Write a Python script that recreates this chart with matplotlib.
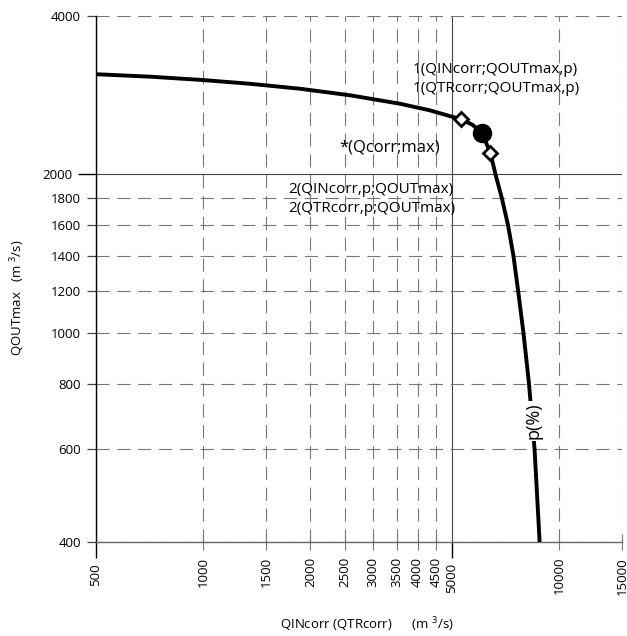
import numpy as np
import matplotlib
matplotlib.use('Agg')
from matplotlib import pyplot as plt
from matplotlib.ticker import FixedLocator, FuncFormatter

plt.rcParams['font.family'] = ['Open Sans', 'DejaVu Sans']
plt.rcParams['mathtext.fontset'] = 'custom'
plt.rcParams['mathtext.rm'] = 'Open Sans'
plt.rcParams['mathtext.it'] = 'Open Sans'
plt.rcParams['lines.scale_dashes'] = False

#   Data
q_in = [500, 709, 1000, 1354, 1871, 2585, 3572, 4337, 5300, 5700, 6060, 6400, 6620,
        6900, 7180, 7434, 7664, 7930, 8220, 8523, 8806]
q_out = [3100, 3067, 3022, 2973, 2909, 2827, 2724, 2646, 2545, 2485, 2400, 2200, 2000,
         1800, 1600, 1400, 1200, 1000, 800, 600, 400]

diamond_x = [5300, 6400]
diamond_y = [2545, 2200]
max_x = [6060]
max_y = [2400]

x_major = [500, 5000]
x_minor = [1000, 1500, 2000, 2500, 3000, 3500, 4000, 4500, 10000, 15000]
y_major = [2000]
y_minor = [400, 600, 800, 1000, 1200, 1400, 1600, 1800, 4000]

fig = plt.figure(figsize=(6.27, 6.36), dpi=100)
ax = fig.add_axes([96/627, 1-542/636, 526/627, 526/636])
ax.set_xscale('log')
ax.set_yscale('log')
ax.set_xlim(500, 15000)
ax.set_ylim(400, 4000)

fmt = FuncFormatter(lambda v, p: '%d' % round(v))
ax.xaxis.set_major_locator(FixedLocator(x_major))
ax.xaxis.set_minor_locator(FixedLocator(x_minor))
ax.yaxis.set_major_locator(FixedLocator(y_major))
ax.yaxis.set_minor_locator(FixedLocator(y_minor))
for a in (ax.xaxis, ax.yaxis):
    a.set_major_formatter(fmt)
    a.set_minor_formatter(fmt)

ax.tick_params(axis='x', which='major', direction='out', length=11.5, width=1,
               color='black', pad=3.6, labelsize=9.5, labelrotation=90)
ax.tick_params(axis='x', which='minor', direction='inout', length=11.5, width=0.8,
               color='#777777', pad=5, labelsize=9.5, labelrotation=90)
ax.tick_params(axis='y', which='major', direction='out', length=13, width=1,
               color='black', pad=4.3, labelsize=9.5)
ax.tick_params(axis='y', which='minor', direction='out', length=6.5, width=0.9,
               color='#444444', pad=4.3, labelsize=9.5)

# grid: decades solid, the rest dashed
ax.grid(which='major', color='#444444', lw=0.8, ls='-')
ax.grid(which='minor', color='#777777', lw=0.8, ls=(0, (9.5, 5.5)))
ax.set_axisbelow(True)

ax.spines['top'].set_visible(False)
ax.spines['right'].set_visible(False)
ax.spines['left'].set_color('black')
ax.spines['left'].set_linewidth(1)
ax.spines['bottom'].set_color('#666666')
ax.spines['bottom'].set_linewidth(1)

ax.plot(q_in, q_out, color='black', lw=2.8, solid_joinstyle='round',
        solid_capstyle='butt', zorder=3)
ax.plot(max_x, max_y, 'o', color='black', ms=13, zorder=4)
ax.plot(diamond_x, diamond_y, 'D', mfc='white', mec='black', mew=2, ms=7.5, zorder=5)

ax.text(3886, 3158, '1(QINcorr;QOUTmax,p)', fontsize=11, va='center', ha='left')
ax.text(3886, 2918, '1(QTRcorr;QOUTmax,p)', fontsize=11, va='center', ha='left')
ax.text(2407, 2254, '*(Qcorr;max)', fontsize=12, va='center', ha='left')
ax.text(1731, 1868, '2(QINcorr,p;QOUTmax)', fontsize=11, va='center', ha='left')
ax.text(1731, 1719, '2(QTRcorr,p;QOUTmax)', fontsize=11, va='center', ha='left')
ax.text(8443, 679, 'p(%)', fontsize=13, rotation=90, va='center', ha='center',
        bbox=dict(facecolor='white', edgecolor='none', pad=1), zorder=6)

fig.text(18/627, 1-298/636, 'QOUTmax   (m $^3$/s)', rotation=90,
         fontsize=9.5, ha='center', va='center')
fig.text(367/627, 1-625/636, 'QINcorr (QTRcorr)      (m $^3$/s)',
         fontsize=9.5, ha='center', va='center')

fig.savefig('out.png', dpi=100)
